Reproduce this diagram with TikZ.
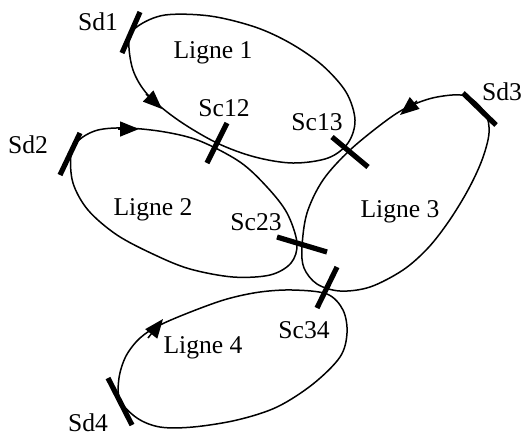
\documentclass[tikz,border=0pt]{standalone}
\usepackage{fontspec}
\setmainfont{Liberation Serif}
\usetikzlibrary{arrows.meta}
\begin{document}
\begin{tikzpicture}[x=0.5pt,y=-0.5pt,
  loop/.style={line width=0.75pt,smooth cycle,tension=0.55},
  tickbar/.style={line width=2.6pt},
  arr/.style={line width=0.75pt,-{Triangle[length=9.5pt,width=7.5pt]}},
  lbl/.style={font=\fontsize{12.8}{15}\selectfont,inner sep=0pt}]
\useasboundingbox (0,0) rectangle (523,436);
% Ligne 1
\draw[loop] plot coordinates {(129,40) (133,70) (148,95) (178,120) (217,143) (255,157) (293,163) (328,158) (348,143) (355,120) (346,92) (322,65) (290,43) (255,27) (210,16) (165,15) (138,26)};
% Ligne 2
\draw[loop] plot coordinates {(71,155) (79,140) (98,130) (127,128) (165,132) (200,141) (240,162) (267,187) (287,213) (297,243) (291,263) (270,275) (233,277) (190,269) (155,255) (117,235) (88,210) (73,183)};
% Ligne 3
\draw[loop] plot coordinates {(485,113) (466,96) (437,97) (410,106) (387,120) (350,150) (323,180) (307,213) (302,247) (304,268) (317,284) (340,291) (370,287) (403,270) (428,248) (449,221) (468,190) (482,160) (489,133)};
% Ligne 4
\draw[loop] plot coordinates {(120,400) (119,378) (126,356) (140,338) (160,325) (193,311) (227,299) (260,292) (293,290) (327,294) (343,310) (347,333) (340,357) (313,384) (277,407) (237,420) (193,427) (160,427) (137,418)};
% arrows
\draw[arr] (146,94) -- (162,109);
\draw[arr] (118,129) -- (139,129);
\draw[arr] (417,101) -- (400,115);
\draw[arr] (148,338) -- (163,319);
% ticks
\coordinate (sd1a) at (140,12); \coordinate (sd1b) at (122,53);
\coordinate (sd2a) at (80,133); \coordinate (sd2b) at (60,175);
\coordinate (sd3a) at (463,93); \coordinate (sd3b) at (496,125);
\coordinate (sd4a) at (108,378); \coordinate (sd4b) at (132,425);
\coordinate (sc12a) at (227,123); \coordinate (sc12b) at (207,163);
\coordinate (sc13a) at (332,137); \coordinate (sc13b) at (368,167);
\coordinate (sc23a) at (277,237); \coordinate (sc23b) at (327,252);
\coordinate (sc34a) at (337,267); \coordinate (sc34b) at (317,308);
\foreach \t in {sd1,sd2,sd3,sd4,sc12,sc13,sc23,sc34}
  \draw[tickbar] (\t a) -- (\t b);
% labels
\node[lbl] (Lsd1) at (98,22) {Sd1};
\node[lbl] (Lsd2) at (28,145) {Sd2};
\node[lbl] (Lsd3) at (502,92) {Sd3};
\node[lbl] (Lsd4) at (88,423) {Sd4};
\node[lbl] (Lsc12) at (224,108) {Sc12};
\node[lbl] (Lsc13) at (317,122) {Sc13};
\node[lbl] (Lsc23) at (256,222) {Sc23};
\node[lbl] (Lsc34) at (304,330) {Sc34};
\node[lbl] (L1) at (213,53) {Ligne 1};
\node[lbl] (L2) at (153,210) {Ligne 2};
\node[lbl] (L3) at (400,212) {Ligne 3};
\node[lbl] (L4) at (203,348) {Ligne 4};
\end{tikzpicture}
\end{document}
